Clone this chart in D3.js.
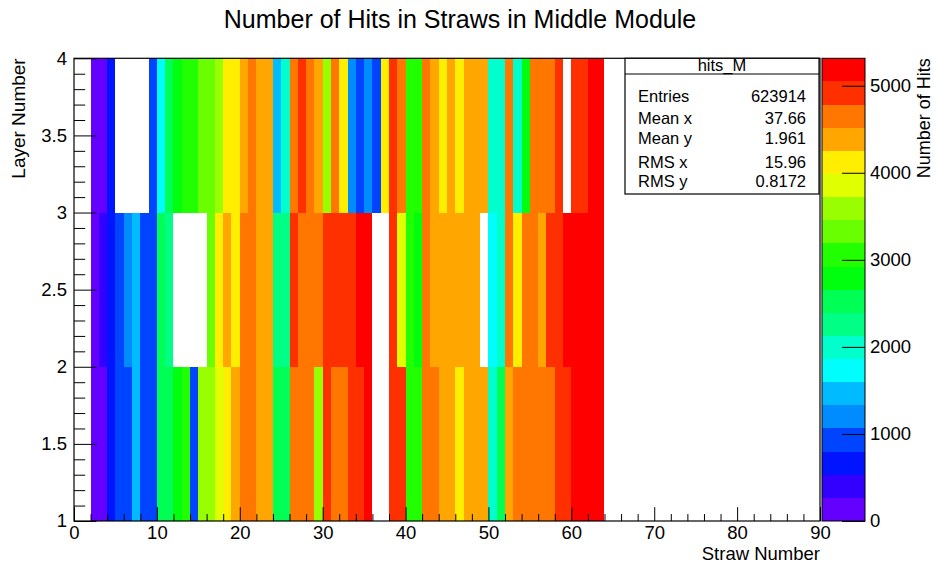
<!DOCTYPE html>
<html>
<head>
<meta charset="utf-8">
<script src="https://cdn.jsdelivr.net/npm/d3@7"></script>
<style>
  body { margin: 0; background: #fff; }
  svg { display: block; font-family: "Liberation Sans", Arial, Helvetica, sans-serif; }
</style>
</head>
<body>
<svg id="chart" width="936" height="564"></svg>
<script>
// Straw numbers (bin low edges) and layers (bin low edges)
const straws = [2, 3, 4, 5, 6, 7, 8, 9, 10, 11, 12, 13, 14, 15, 16, 17, 18, 19, 20, 21, 22,
  23, 24, 25, 26, 27, 28, 29, 30, 31, 32, 33, 34, 35, 36, 37, 38, 39, 40, 41, 42, 43,
  44, 45, 46, 47, 48, 49, 50, 51, 52, 53, 54, 55, 56, 57, 58, 59, 60, 61, 62, 63];
const layers = [1, 2, 3];

// Hit counts per straw, one array per layer (0 = empty bin)
const hitsLayer1 = [150, 140, 680, 930, 950, 1460, 920, 960, 2520, 2550, 2790, 3050, 940,
  3590, 3570, 3850, 4120, 4380, 4650, 4670, 4400, 4390, 2510, 2540, 4640, 4660, 4630,
  3580, 4920, 4650, 4680, 4910, 4940, 5190, 0, 0, 4930, 4900, 3060, 3040, 4660, 4640,
  4370, 4400, 4130, 4390, 4410, 4380, 1990, 2530, 4360, 4650, 4670, 4640, 4660, 4680,
  4920, 4950, 5220, 5315, 5250, 5200];
const hitsLayer2 = [170, 410, 660, 950, 1190, 1470, 930, 970, 2500, 2260, 0, 0, 0, 0,
  3320, 4110, 4390, 4140, 4650, 4630, 4380, 4400, 2250, 2270, 4910, 4660, 4640, 4670,
  4930, 4920, 4900, 4940, 5160, 5180, 0, 0, 4910, 3860, 3070, 2800, 4650, 4390, 4370,
  4400, 4380, 4410, 4390, 0, 1730, 2000, 4660, 4120, 4640, 4670, 4400, 4920, 4940,
  5170, 5210, 5190, 5230, 5200];
const hitsLayer3 = [130, 160, 650, 0, 0, 0, 0, 960, 1740, 2530, 2810, 3050, 3060, 3310,
  3330, 3580, 4120, 4100, 4390, 4650, 4380, 4400, 1470, 1980, 4660, 4920, 4640, 4370,
  3600, 4650, 4130, 1200, 940, 1210, 920, 4110, 4910, 4670, 3040, 3060, 4650, 4390,
  4120, 4400, 4140, 4380, 4370, 4400, 2000, 1980, 4660, 2010, 2790, 4640, 4670, 4650,
  4930, 0, 4900, 4920, 5170, 5190];
const hitsByLayer = [hitsLayer1, hitsLayer2, hitsLayer3];

// Axis ticks
const xTicks = [0, 10, 20, 30, 40, 50, 60, 70, 80, 90];
const yTicks = [1, 1.5, 2, 2.5, 3, 3.5, 4];
const zTicks = [0, 1000, 2000, 3000, 4000, 5000];

// Statistics box
const statsTitle = "hits_M";
const statsLabels = ["Entries", "Mean x", "Mean y", "RMS x", "RMS y"];
const statsValues = ["623914", "37.66", "1.961", "15.96", "0.8172"];

const titleText = "Number of Hits in Straws in Middle Module";
const xTitle = "Straw Number";
const yTitle = "Layer Number";
const zTitle = "Number of Hits";

// ---- layout ----
const frame = { left: 74, right: 820, top: 58.3, bottom: 521 };
const bar = { left: 822, right: 865 };
const nLevels = 20;

const svg = d3.select("#chart");

const x = d3.scaleLinear().domain([0, 90]).range([frame.left, frame.right]);
const y = d3.scaleLinear().domain([1, 4]).range([frame.bottom, frame.top]);
const zMax = d3.max(hitsByLayer.flat());
const z = d3.scaleLinear().domain([0, zMax]).range([frame.bottom, frame.top]);

// rainbow palette: 50 hues from violet to red, sampled at 20 contour levels
const levelColor = j => {
  const idx = Math.floor((j + 0.99) * 50 / nLevels);
  const hue = 280 - (idx + 1) * 5.6;
  return d3.hsl(hue, 1, 0.5).formatHex();
};
const colorOf = v => levelColor(Math.min(nLevels - 1, Math.floor(v / zMax * nLevels)));

// ---- cells ----
const cells = [];
layers.forEach((layer, li) => {
  straws.forEach((s, si) => {
    const v = hitsByLayer[li][si];
    if (v > 0) cells.push({ s, layer, v });
  });
});

svg.append("g")
  .attr("shape-rendering", "crispEdges")
  .selectAll("rect")
  .data(cells)
  .join("rect")
  .attr("x", d => x(d.s))
  .attr("y", d => y(d.layer + 1))
  .attr("width", d => x(d.s + 1) - x(d.s))
  .attr("height", d => y(d.layer) - y(d.layer + 1))
  .attr("fill", d => colorOf(d.v));

// ---- axes ----
const tickFont = "18.5px";
const xLen = (frame.bottom - frame.top) * 0.03;
const yLen = (frame.right - frame.left) * 0.03;

const xMinor = d3.range(0, 91, 2).filter(v => v % 10 !== 0);
const yMinor = d3.range(10, 41).map(v => v / 10).filter(v => Math.abs(v * 2 - Math.round(v * 2)) > 1e-6);

svg.append("g").attr("transform", `translate(0,${frame.bottom})`)
  .call(d3.axisBottom(x).tickValues(xTicks).tickSize(-xLen).tickPadding(5).tickFormat(d3.format("d")));
svg.append("g").attr("transform", `translate(0,${frame.bottom})`)
  .call(d3.axisBottom(x).tickValues(xMinor).tickSize(-xLen / 2).tickFormat(""));

svg.append("g").attr("transform", `translate(${frame.left},0)`)
  .call(d3.axisLeft(y).tickValues(yTicks).tickSize(-yLen).tickPadding(7).tickFormat(d3.format("~g")));
svg.append("g").attr("transform", `translate(${frame.left},0)`)
  .call(d3.axisLeft(y).tickValues(yMinor).tickSize(-yLen / 2).tickFormat(""));

svg.selectAll(".domain").remove();
svg.selectAll(".tick line").attr("stroke", "#000");
svg.selectAll(".tick text").attr("font-size", tickFont).attr("fill", "#000")
  .attr("font-family", "'Liberation Sans', Arial, sans-serif");

// frame
svg.append("rect")
  .attr("x", frame.left).attr("y", frame.top)
  .attr("width", frame.right - frame.left).attr("height", frame.bottom - frame.top)
  .attr("fill", "none").attr("stroke", "#000").attr("stroke-width", 1.2);

// ---- color bar ----
const levels = d3.range(nLevels);
const step = zMax / nLevels;
svg.append("g")
  .attr("shape-rendering", "crispEdges")
  .selectAll("rect")
  .data(levels)
  .join("rect")
  .attr("x", bar.left)
  .attr("y", j => z((j + 1) * step))
  .attr("width", bar.right - bar.left)
  .attr("height", j => z(j * step) - z((j + 1) * step))
  .attr("fill", j => levelColor(j));

svg.append("rect")
  .attr("x", bar.left).attr("y", frame.top)
  .attr("width", bar.right - bar.left).attr("height", frame.bottom - frame.top)
  .attr("fill", "none").attr("stroke", "#000").attr("stroke-width", 1);

const gz = svg.append("g").attr("transform", `translate(${bar.right},0)`)
  .call(d3.axisRight(z).tickValues(zTicks).tickSize(-23).tickPadding(5).tickFormat(d3.format("d")));
gz.select(".domain").remove();
gz.selectAll(".tick line").attr("stroke", "#000");
gz.selectAll(".tick text").attr("font-size", tickFont).attr("fill", "#000")
  .attr("font-family", "'Liberation Sans', Arial, sans-serif");

// ---- titles ----
svg.append("text")
  .attr("x", 460).attr("y", 28)
  .attr("text-anchor", "middle")
  .attr("font-size", "25px")
  .text(titleText);

svg.append("text")
  .attr("x", frame.right).attr("y", 560)
  .attr("text-anchor", "end")
  .attr("font-size", "18.5px")
  .text(xTitle);

svg.append("text")
  .attr("transform", `translate(25,${frame.top}) rotate(-90)`)
  .attr("text-anchor", "end")
  .attr("font-size", "19px")
  .text(yTitle);

svg.append("text")
  .attr("transform", `translate(930,${frame.top}) rotate(-90)`)
  .attr("text-anchor", "end")
  .attr("font-size", "18px")
  .text(zTitle);

// ---- statistics box ----
const box = { left: 625, right: 819, top: frame.top, bottom: 194, sep: 74 };
svg.append("rect")
  .attr("x", box.left).attr("y", box.top)
  .attr("width", box.right - box.left).attr("height", box.bottom - box.top)
  .attr("fill", "#fff").attr("stroke", "#000").attr("stroke-width", 1.2);
svg.append("line")
  .attr("x1", box.left).attr("x2", box.right)
  .attr("y1", box.sep).attr("y2", box.sep)
  .attr("stroke", "#000").attr("stroke-width", 1);
svg.append("text")
  .attr("x", (box.left + box.right) / 2).attr("y", 71)
  .attr("text-anchor", "middle").attr("font-size", "16.5px")
  .text(statsTitle);

const rowBaselines = [102, 124, 144, 168, 187];
statsLabels.forEach((lab, i) => {
  svg.append("text")
    .attr("x", 638).attr("y", rowBaselines[i])
    .attr("font-size", "16.5px")
    .text(lab);
  svg.append("text")
    .attr("x", 806).attr("y", rowBaselines[i])
    .attr("text-anchor", "end")
    .attr("font-size", "16.5px")
    .text(statsValues[i]);
});
</script>
</body>
</html>
